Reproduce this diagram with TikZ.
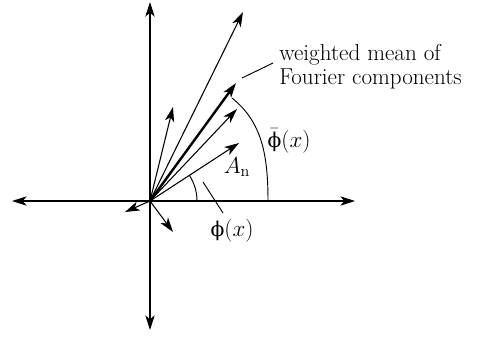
\documentclass[tikz,border=0pt]{standalone}
\usepackage{fontspec}
\usetikzlibrary{arrows.meta}
\newfontfamily\grkfont[Scale=0.88]{DejaVu Serif}
\newcommand{\phisym}{\mbox{\grkfont ϕ}}
\tikzset{
  axis/.style={line width=0.8pt,{Stealth[length=11pt,width=7pt,inset=3pt]}-{Stealth[length=11pt,width=7pt,inset=3pt]}},
  vec/.style={line width=0.8pt,-{Stealth[length=11pt,width=7pt,inset=3pt]}},
  thickvec/.style={vec,line width=1.8pt},
  leader/.style={line width=0.7pt},
  lbl/.style={font=\fontsize{17.3pt}{18pt}\selectfont,inner sep=0pt,align=left}
}
\begin{document}
\begin{tikzpicture}[x=0.75pt,y=-0.75pt]
  \useasboundingbox (0,0) rectangle (478,337);
  \coordinate (O) at (150,201);
  % axes
  \coordinate (xl) at (12,201);
  \coordinate (xr) at (355,201);
  \coordinate (yt) at (150,2);
  \coordinate (yb) at (150,330);
  \draw[axis] (xl) -- (xr);
  \draw[axis] (yt) -- (yb);
  % components
  \coordinate (c1) at (243,12);
  \coordinate (c2) at (237,109);
  \coordinate (cn) at (239,143);
  \coordinate (c3) at (173,107);
  \coordinate (c4) at (125,212);
  \coordinate (c5) at (173,232);
  \coordinate (mean) at (236,83);
  \foreach \c in {c1,c2,cn,c3,c4,c5}
    \draw[vec] (O) -- (\c);
  \draw[thickvec] (O) -- (mean);
  % angles
  \draw[leader] (197,201) arc[start angle=0,end angle=-33,radius=47];
  \draw[leader] (268,201) .. controls (268,155) and (262,122) .. (232,98);
  % labels
  \node[lbl,anchor=north west] (meanlbl) at (279,44) {weighted mean of\\Fourier components};
  \coordinate (m1) at (242,78);
  \coordinate (m2) at (273,63);
  \draw[leader] (m1) -- (m2);
  \node[lbl] (phibar) at (289,141) {$\bar{\phisym}(x)$};
  \node[lbl] (An) at (237,167) {$A_{\mathrm{n}}$};
  \node[lbl] (phi) at (232,231) {$\phisym(x)$};
  \coordinate (p1) at (203,182);
  \coordinate (p2) at (223,213);
  \draw[leader] (p1) -- (p2);
\end{tikzpicture}
\end{document}
